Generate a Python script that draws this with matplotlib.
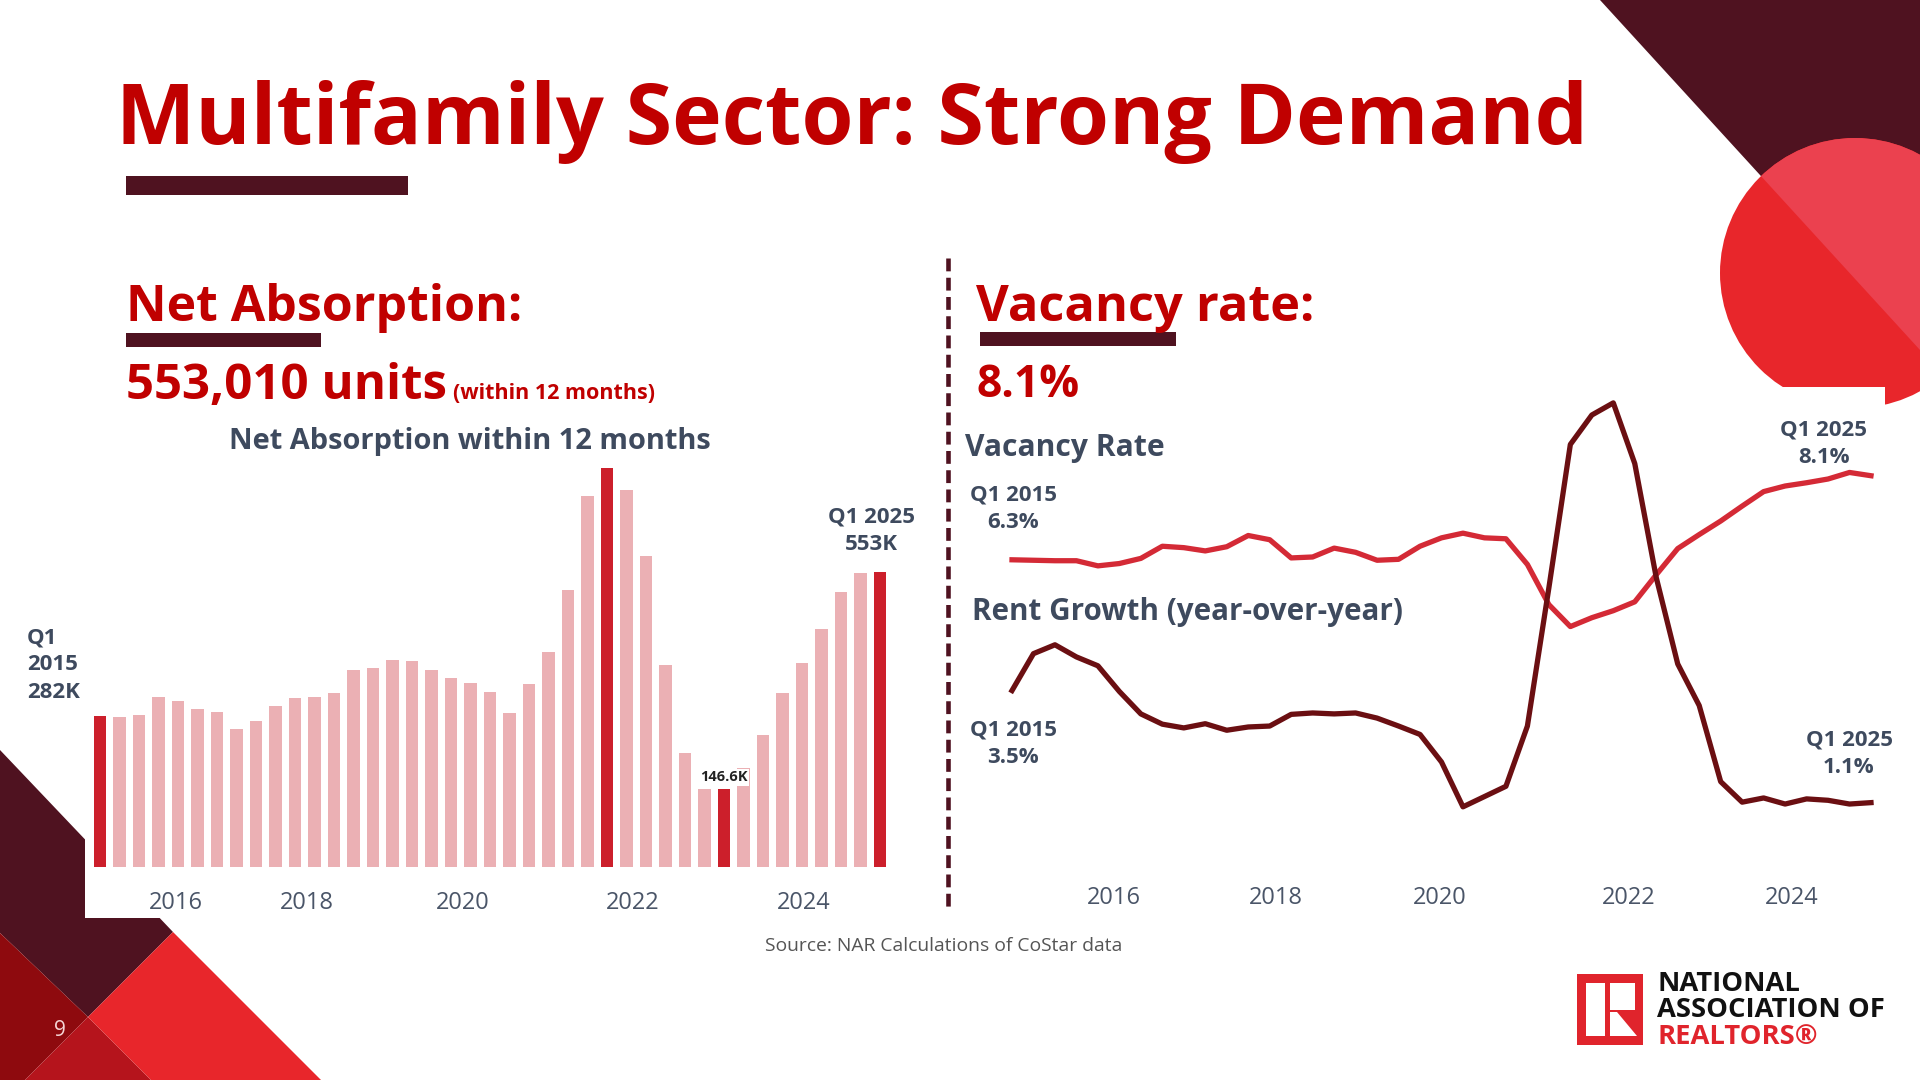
import matplotlib
matplotlib.use('Agg')
import matplotlib.pyplot as plt
import matplotlib.patches as patches

# ---- data ----
absorption_k = [282, 281, 285, 318, 310, 295, 291, 258, 273, 301, 316, 318, 326, 368, 373,
                388, 386, 368, 353, 345, 328, 288, 343, 403, 518, 695, 746, 705, 582, 378,
                213, 146, 146.6, 185, 248, 326, 381, 446, 515, 550, 553]
highlight = [0, 26, 32, 40]

vacancy = [6.30, 6.29, 6.28, 6.28, 6.17, 6.22, 6.33, 6.59, 6.56, 6.49, 6.58, 6.82, 6.73, 6.34,
           6.36, 6.55, 6.46, 6.29, 6.31, 6.59, 6.77, 6.87, 6.77, 6.75, 6.20, 5.34, 4.87, 5.06,
           5.21, 5.40, 5.98, 6.54, 6.84, 7.13, 7.45, 7.76, 7.88, 7.95, 8.03, 8.17, 8.10]
rent = [3.50, 4.29, 4.48, 4.22, 4.03, 3.48, 3.00, 2.78, 2.70, 2.79, 2.65, 2.72, 2.74, 2.99,
        3.02, 3.00, 3.02, 2.91, 2.74, 2.56, 1.97, 1.01, 1.23, 1.45, 2.74, 5.70, 8.77, 9.40,
        9.66, 8.36, 5.92, 4.07, 3.18, 1.55, 1.11, 1.20, 1.07, 1.18, 1.15, 1.07, 1.10]

year_labels = ['2016', '2018', '2020', '2022', '2024']
bar_year_pos = [3.9, 10.6, 18.6, 27.3, 36.1]
line_year_pos = [4.75, 12.3, 19.9, 28.7, 36.3]

# ---- colours ----
RED = '#C00000'
MAROON = '#4F1220'
SLATE = '#3E4A5E'
BAR_LIGHT = '#EBB0B4'
BAR_DARK = '#CC1F2B'

plt.rcParams['font.family'] = ['Open Sans', 'DejaVu Sans']

W, H = 1920, 1080
fig = plt.figure(figsize=(19.2, 10.8), dpi=100)
fig.patch.set_facecolor('white')


def rect(x0, y0, x1, y1):
    # pixel box (top-left origin) -> figure fraction
    return [x0 / W, 1 - y1 / H, (x1 - x0) / W, (y1 - y0) / H]


# background axes in pixel units
bg = fig.add_axes([0, 0, 1, 1], zorder=0)
bg.set_xlim(0, W)
bg.set_ylim(H, 0)
bg.axis('off')

# top right decoration
tri = patches.Polygon([(1600, 0), (1920, 0), (1920, 350)], closed=True, color=MAROON, lw=0)
bg.add_patch(tri)
circ = patches.Circle((1855, 273), 135, color='#E8262B', lw=0)
bg.add_patch(circ)
circ2 = patches.Circle((1855, 273), 135, color='#EB414F', lw=0)
bg.add_patch(circ2)
clip_tri = patches.Polygon([(1600, 0), (1920, 0), (1920, 350)], closed=True,
                           transform=bg.transData, fc='none', lw=0)
circ2.set_clip_path(clip_tri)

# bottom left decoration
bg.add_patch(patches.Polygon([(0, 750), (173, 932), (88, 1017), (0, 933)], color=MAROON, lw=0))
bg.add_patch(patches.Polygon([(0, 933), (88, 1017), (25, 1080), (0, 1080)], color='#8E0A0E', lw=0))
bg.add_patch(patches.Polygon([(88, 1017), (151, 1080), (25, 1080)], color='#B5141C', lw=0))
bg.add_patch(patches.Polygon([(173, 932), (321, 1080), (151, 1080), (88, 1017)], color='#E8262B', lw=0))

# white chart backgrounds laid over the decorations
bg.add_patch(patches.Rectangle((85, 420), 855, 498, color='white', lw=0))
bg.add_patch(patches.Rectangle((960, 387), 925, 540, color='white', lw=0))

bg.text(60, 1030, '9', color='#F5D5D5', fontsize=15, ha='center', va='center')

# underline bars
bg.add_patch(patches.Rectangle((126, 176), 282, 19, color=MAROON, lw=0))
bg.add_patch(patches.Rectangle((126, 333), 195, 14, color=MAROON, lw=0))
bg.add_patch(patches.Rectangle((980, 332), 196, 14, color=MAROON, lw=0))

# dashed divider
bg.plot([948, 948], [258, 912], color=MAROON, lw=3.3, dashes=(2.8, 1.4))

renderer = fig.canvas.get_renderer()


def fit(t, width):
    bb = t.get_window_extent(renderer)
    t.set_fontsize(t.get_fontsize() * width / bb.width)


t = bg.text(116, 144, 'Multifamily Sector: Strong Demand', color=RED, fontsize=60,
            fontweight='bold', va='baseline')
fit(t, 1473)
t = bg.text(126, 321, 'Net Absorption:', color=RED, fontsize=36, fontweight='bold', va='baseline')
fit(t, 396)
t = bg.text(126, 399, '553,010 units', color=RED, fontsize=36, fontweight='bold', va='baseline')
fit(t, 321)
t = bg.text(453, 399, '(within 12 months)', color=RED, fontsize=14, fontweight='bold', va='baseline')
fit(t, 202)
t = bg.text(470, 449, 'Net Absorption within 12 months', color=SLATE, fontsize=19,
            fontweight='bold', va='baseline', ha='center')
fit(t, 482)
t = bg.text(976, 321, 'Vacancy rate:', color=RED, fontsize=36, fontweight='bold', va='baseline')
fit(t, 339)
t = bg.text(976, 397, '8.1%', color=RED, fontsize=36, fontweight='bold', va='baseline')
fit(t, 103)
t = bg.text(965, 448, 'Vacancy Rate', color=SLATE, fontsize=19, fontweight='bold', va='center')
fit(t, 199)
t = bg.text(972, 612, 'Rent Growth (year-over-year)', color=SLATE, fontsize=19,
            fontweight='bold', va='center')
fit(t, 429)

# annotations
ann = dict(color=SLATE, fontsize=16, fontweight='bold', linespacing=1.4)
bg.text(27, 665, 'Q1\n2015\n282K', ha='left', va='center', **ann)
bg.text(871, 531, 'Q1 2025\n553K', ha='center', va='center', **ann)
bg.text(1013, 509, 'Q1 2015\n6.3%', ha='center', va='center', **ann)
bg.text(1013, 744, 'Q1 2015\n3.5%', ha='center', va='center', **ann)
bg.text(1824, 444, 'Q1 2025\n8.1%', ha='center', va='center', **ann)
bg.text(1849, 754, 'Q1 2025\n1.1%', ha='center', va='center', **ann)

bg.text(944, 946, 'Source: NAR Calculations of CoStar data', color='#555555', fontsize=13.9,
        ha='center', va='center')

# logo
bg.add_patch(patches.Rectangle((1577, 974), 66, 71, color='#E0242C', lw=0))
bg.add_patch(patches.Rectangle((1586, 983), 19, 53, color='white', lw=0))
bg.add_patch(patches.Rectangle((1610, 983), 25, 27, color='white', lw=0))
bg.add_patch(patches.Polygon([(1610, 1012), (1617, 1012), (1637, 1036), (1610, 1036)],
                             color='white', lw=0))
logo = dict(fontsize=16, fontweight='bold', va='baseline', ha='left')
t = bg.text(1657, 991, 'NATIONAL', color='#111111', **logo)
t2 = bg.text(1657, 1017, 'ASSOCIATION OF', color='#111111', **logo)
t3 = bg.text(1657, 1044, 'REALTORS®', color='#E0242C', **logo)
bb = t2.get_window_extent(renderer)
for tt in (t, t2, t3):
    tt.set_fontsize(16 * 228 / bb.width)

# ---- bar chart ----
step = 19.5
axb = fig.add_axes(rect(100 - 0.5 * step, 867 - 800 / 1.872, 100 + 40.5 * step, 867), zorder=2)
axb.patch.set_alpha(0)
colors = [BAR_DARK if i in highlight else BAR_LIGHT for i in range(len(absorption_k))]
axb.bar(range(len(absorption_k)), absorption_k, width=0.62, color=colors)
axb.set_xlim(-0.5, 40.5)
axb.set_ylim(0, 800)
for s in axb.spines.values():
    s.set_visible(False)
axb.set_yticks([])
axb.set_xticks(bar_year_pos)
axb.set_xticklabels(year_labels, fontsize=17, color='#4A5568')
axb.tick_params(axis='x', length=0, pad=17)
axb.text(32, absorption_k[32] + 8, '146.6K', ha='center', va='bottom', fontsize=10.5,
         fontweight='bold', color='#222222',
         bbox=dict(boxstyle='square,pad=0.1', fc='white', ec='none'))

# ---- line chart ----
axl = fig.add_axes(rect(1012, 387, 1871, 854), zorder=2)
axl.patch.set_alpha(0)
x = range(len(vacancy))
axl.plot(x, vacancy, color='#D42A36', lw=3.8, clip_on=False, solid_joinstyle='round')
axl.plot(x, rent, color='#6B0F12', lw=3.8, clip_on=False, solid_joinstyle='round')
axl.set_xlim(0, 40)
axl.set_ylim(0, 10)
for s in axl.spines.values():
    s.set_visible(False)
axl.set_yticks([])
axl.set_xticks(line_year_pos)
axl.set_xticklabels(year_labels, fontsize=17, color='#4A5568')
axl.tick_params(axis='x', length=0, pad=23)

fig.savefig('out.png', dpi=100, facecolor='white')
